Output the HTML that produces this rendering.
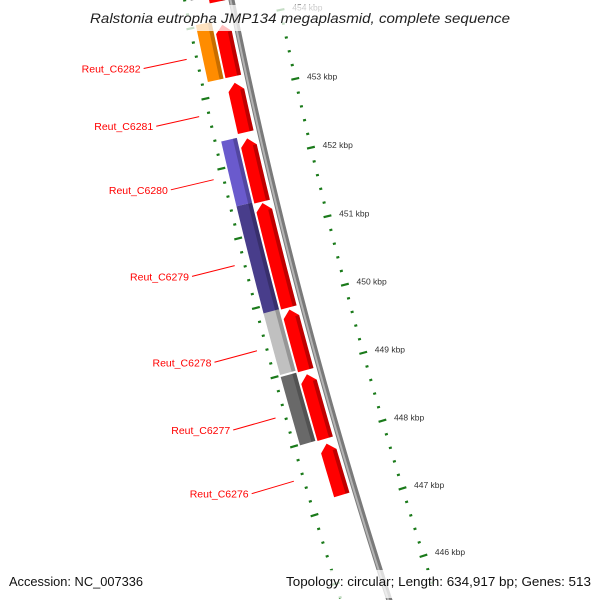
<!DOCTYPE html>
<html><head><meta charset="utf-8"><style>
html,body{margin:0;padding:0;background:#fff;width:600px;height:600px;overflow:hidden;}
svg{display:block;font-family:"Liberation Sans",sans-serif;overflow:hidden;}
</style></head><body>
<svg id="map" width="600" height="600" viewBox="0 0 600 600" xmlns="http://www.w3.org/2000/svg">
<defs><clipPath id="frame"><rect x="0" y="0" width="600" height="600"/></clipPath></defs>
<g clip-path="url(#frame)">
<g id="rulers"></g>
<g id="backbone"></g>
<g id="genes"></g>
<g id="labels"></g>
</g>
<rect x="86" y="5" width="428" height="26" fill="#fff" fill-opacity="0.75"/>
<text x="300" y="23" text-anchor="middle" font-size="14" font-style="italic" fill="#222" textLength="420" lengthAdjust="spacingAndGlyphs">Ralstonia eutropha JMP134 megaplasmid, complete sequence</text>
<rect x="5" y="570" width="143" height="26" fill="#fff" fill-opacity="0.75"/>
<rect x="282" y="570" width="314" height="28" fill="#fff" fill-opacity="0.75"/>
<text x="9" y="586" font-size="12.5" fill="#111" textLength="134" lengthAdjust="spacingAndGlyphs">Accession: NC_007336</text>
<text x="591" y="586" font-size="12.5" fill="#111" text-anchor="end" textLength="305" lengthAdjust="spacingAndGlyphs">Topology: circular; Length: 634,917 bp; Genes: 513</text>
</svg>
<script>
// data
const forwardStarts = [454.29, 453.22, 452.42, 451.42, 449.89, 448.98, 447.98, 447.16];
const forwardEnds   = [454.80, 453.96, 453.13, 452.33, 451.40, 449.86, 448.92, 447.91];
const forwardLabels = ["", "Reut_C6282", "Reut_C6281", "Reut_C6280", "Reut_C6279", "Reut_C6278", "Reut_C6277", "Reut_C6276"];
const cogStarts = [454.38, 453.22, 451.44, 449.89, 449.01, 447.99];
const cogEnds   = [454.90, 454.03, 452.37, 451.44, 449.90, 448.98];
const cogColors = ["#696969", "#ff8c00", "#6a5acd", "#483d8b", "#c0c0c0", "#696969"];
const tickMin = 445.6, tickMax = 454.6, tickStep = 0.2;
const majorTickLabels = ["446 kbp","447 kbp","448 kbp","449 kbp","450 kbp","451 kbp","452 kbp","453 kbp","454 kbp"];

// geometry (circular map, large radius)
const CX = 5621, CY = -1097, A0 = Math.PI - 0.2173, K = 0.01294;
const R_BACK = 5500, R_OUTRULER = 5454, R_INRULER = 5546;
const R_FWD0 = 5506, R_FWD1 = 5522, R_COG0 = 5524, R_COG1 = 5540;
function pt(p, r){ const a = A0 - (453 - p) * K; return [CX + r*Math.cos(a), CY + r*Math.sin(a)]; }
const NS = "http://www.w3.org/2000/svg";
function mk(tag, attrs, parent){ const e = document.createElementNS(NS, tag); for (const k in attrs) e.setAttribute(k, attrs[k]); parent.appendChild(e); return e; }
function arcPts(p1, p2, r, n){ const out=[]; for(let i=0;i<=n;i++){ out.push(pt(p1+(p2-p1)*i/n, r)); } return out; }
function ptsStr(a){ return a.map(q=>q[0].toFixed(2)+","+q[1].toFixed(2)).join(" "); }

// backbone
const bb = document.getElementById('backbone');
const b1 = mk('polyline', {points: ptsStr(arcPts(445.3, 455.2, R_BACK, 60)), fill:'none', stroke:'#7a7a7a', 'stroke-width':6}, bb);


const b2 = mk('polyline', {points: ptsStr(arcPts(445.3, 455.2, R_BACK+1, 60)), fill:'none', stroke:'#b4b4b4', 'stroke-width':2}, bb);



// rulers
const rg = document.getElementById('rulers');
const nT = Math.round((tickMax - tickMin)/tickStep);
for (let i=0;i<=nT;i++){
  const p = tickMin + i*tickStep;
  const major = Math.abs(p - Math.round(p)) < 0.01;
  const h = major ? 4 : 1.5;
  [R_OUTRULER, R_INRULER].forEach((r) => {
    const a = pt(p, r - h), b = pt(p, r + h);
    const t = mk('line', {x1:a[0], y1:a[1], x2:b[0], y2:b[1], stroke:'#1a7a1a', 'stroke-width': 2.2}, rg);
    
    
  });
  if (major){
    const idx = Math.round(p) - 446;
    if (idx >= 0 && idx < majorTickLabels.length){
      const q = pt(p, R_OUTRULER - 12);
      const tx = mk('text', {x:q[0], y:q[1]+3, 'font-size':8.5, fill:'#333'}, rg);
      
      
      tx.textContent = majorTickLabels[idx];
    }
  }
}

// genes
const gg = document.getElementById('genes');
function geneBody(p1, p2, r0, r1, arrow){
  const head = 0.11;
  const top = arrow ? p2 - head : p2;
  const inner = arcPts(p1, top, r0, 8);
  const outer = arcPts(top, p1, r1, 8);
  let pts = inner.slice();
  if (arrow) pts.push(pt(p2, (r0+r1)/2));
  pts = pts.concat(outer);
  return pts;
}
for (let i=0;i<cogStarts.length;i++){
  const poly = mk('polygon', {points: ptsStr(geneBody(cogStarts[i], cogEnds[i], R_COG0, R_COG1, false)), fill: cogColors[i]}, gg);
  
  
  const sh = mk('polygon', {points: ptsStr(geneBody(cogStarts[i], cogEnds[i], R_COG0, R_COG0+4, false)), fill:'#000', 'fill-opacity':0.22}, gg);
  
  
}
for (let i=0;i<forwardStarts.length;i++){
  const poly = mk('polygon', {points: ptsStr(geneBody(forwardStarts[i], forwardEnds[i], R_FWD0, R_FWD1, true)), fill:'#ff0000'}, gg);
  
  
  const sh = mk('polygon', {points: ptsStr(geneBody(forwardStarts[i], forwardEnds[i]-0.11, R_FWD0, R_FWD0+4, false)), fill:'#000', 'fill-opacity':0.25}, gg);
  
  
}

// labels
const lg = document.getElementById('labels');
for (let i=0;i<forwardStarts.length;i++){
  if (!forwardLabels[i]) continue;
  const c = (forwardStarts[i] + forwardEnds[i]) / 2;
  const a = pt(c, 5556), b = pt(c, 5600);
  const ln = mk('line', {x1:a[0], y1:a[1], x2:b[0], y2:b[1], stroke:'#ff0000', 'stroke-width':1}, lg);
  
  
  const tx = mk('text', {x:b[0]-3, y:b[1]+4, 'font-size':10.5, fill:'#ff0000', 'text-anchor':'end'}, lg);
  
  
  tx.textContent = forwardLabels[i];
}
</script>
</body></html>
